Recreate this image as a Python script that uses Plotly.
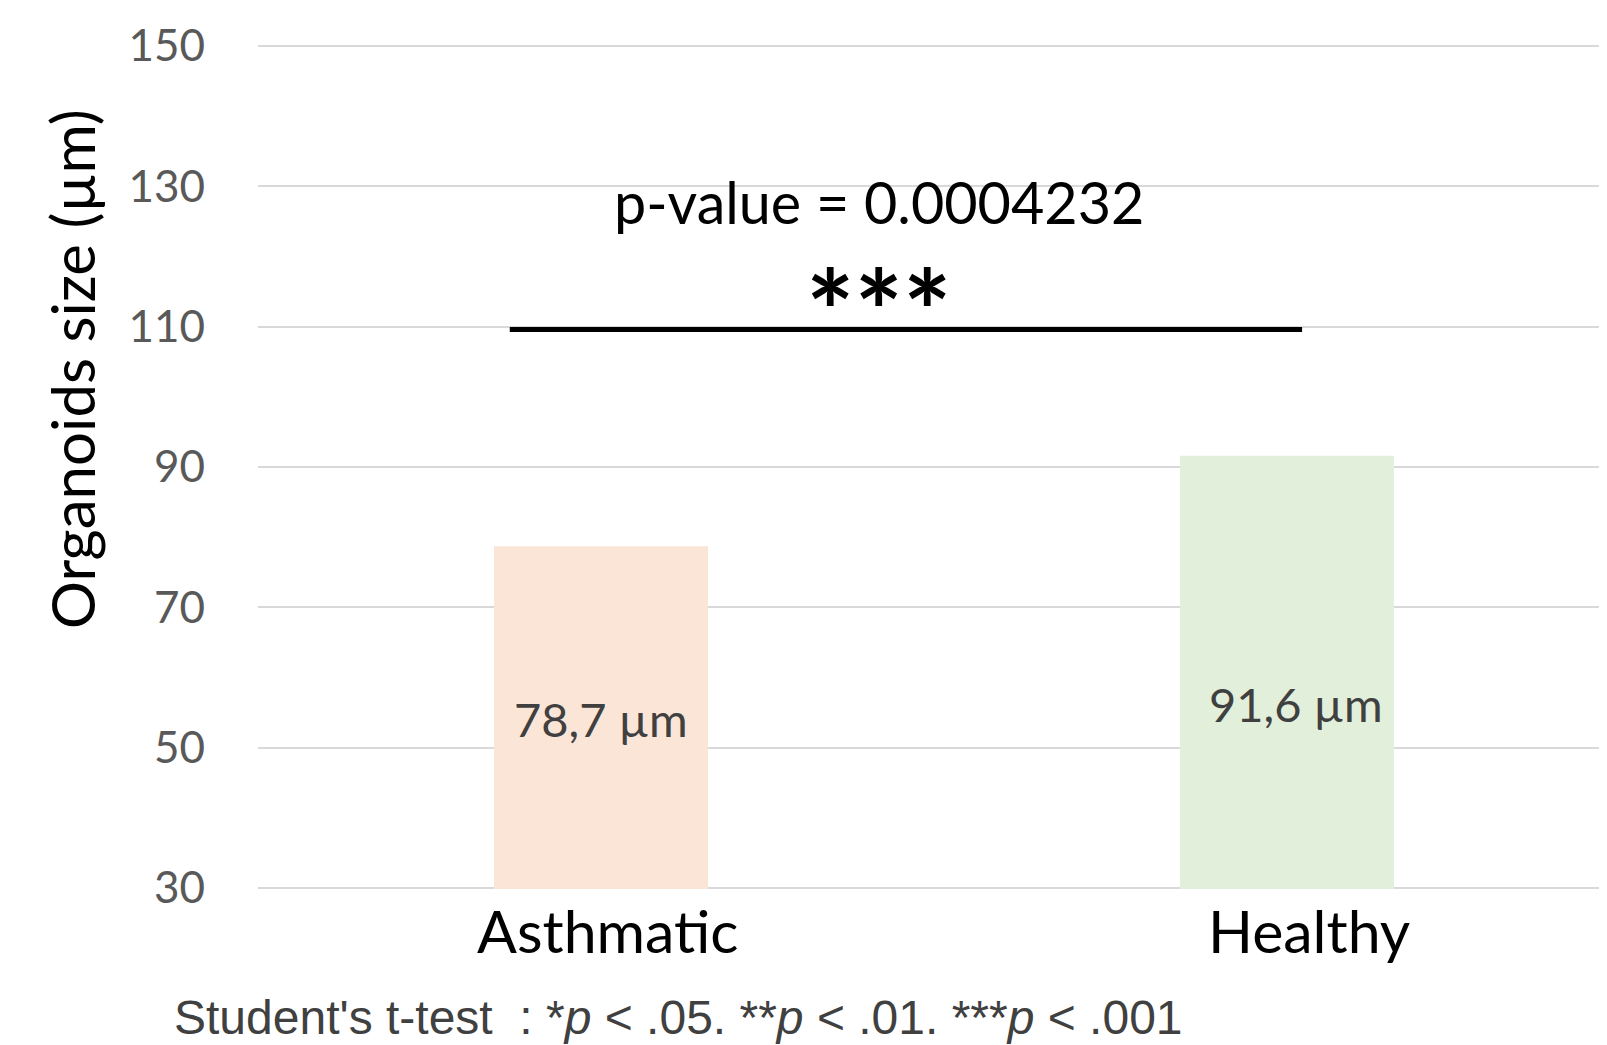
import plotly.graph_objects as go

categories = ["Asthmatic", "Healthy"]
sizes = [78.7, 91.6]
bar_labels = ["78,7 µm", "91,6 µm"]
label_y = [54.1, 56.2]
label_dx = [0, 9]
cat_dx = [7, 22]
bar_colors = ["#FBE5D6", "#E2EFDA"]
y_ticks = [30, 50, 70, 90, 110, 130, 150]
p_text = "p-value = 0.0004232"
stars = "***"
sig_y = 109.6
sig_x = [-0.133, 1.022]

W, H = 1607, 1045
L, T, B = 250, 37, 164
PW, PH = W - L, H - T - B


def px(x):
    return (x - 8 - L) / PW


def py(y):
    return (H - B - (y - 8)) / PH


fig = go.Figure()
fig.add_trace(go.Bar(x=categories, y=sizes, marker_color=bar_colors, width=0.312,
                     marker_line_width=0, hoverinfo="skip"))

for c, t, ly, dx in zip(categories, bar_labels, label_y, label_dx):
    fig.add_annotation(x=c, y=ly, text=t, showarrow=False, xref="x", yref="y", xshift=dx,
                       font=dict(family="Lato", size=47, color="#404040"))

for c, dx in zip(categories, cat_dx):
    fig.add_annotation(x=c, y=py(930), text=c, showarrow=False, xref="x", yref="paper",
                       yanchor="middle", xshift=dx,
                       font=dict(family="Lato", size=59, color="black"))

fig.add_shape(type="line", xref="x", yref="y", x0=sig_x[0], x1=sig_x[1], y0=sig_y, y1=sig_y,
              line=dict(color="black", width=5))
fig.add_annotation(x=0.405, y=127.9, xref="x", yref="y", text=p_text, showarrow=False,
                   font=dict(family="Lato", size=57.5, color="black"))
fig.add_annotation(x=0.405, y=112.5, xref="x", yref="y", text="<b>" + stars + "</b>", showarrow=False,
                   font=dict(family="Lato", size=114, color="black"))

fig.add_annotation(x=px(72), y=py(369), xref="paper", yref="paper", xanchor="center", yanchor="middle",
                   text="Organoids size (µm)", textangle=-90, showarrow=False,
                   font=dict(family="Lato", size=60, color="black"))

fig.add_annotation(x=px(172), y=py(1017), xref="paper", yref="paper", xanchor="left", yanchor="middle",
                   text="Student's t-test  : *<i>p</i> < .05. **<i>p</i> < .01. ***<i>p</i> < .001",
                   showarrow=False, font=dict(family="Liberation Sans", size=48, color="#404040"))

fig.update_layout(
    width=W, height=H,
    margin=dict(l=L, r=0, t=T, b=B),
    plot_bgcolor="white", paper_bgcolor="white",
    showlegend=False,
    xaxis=dict(range=[-0.5, -0.5 + PW / 686], showgrid=False, zeroline=False, showline=False,
               showticklabels=False, ticks=""),
    yaxis=dict(range=[29.85, 150.15], tickvals=y_ticks, showgrid=True, gridcolor="#D9D9D9", gridwidth=2,
               zeroline=False, showline=False,
               tickfont=dict(family="Lato", size=44, color="#595959"), ticklabelstandoff=52),
)
fig.write_html("out.html")
